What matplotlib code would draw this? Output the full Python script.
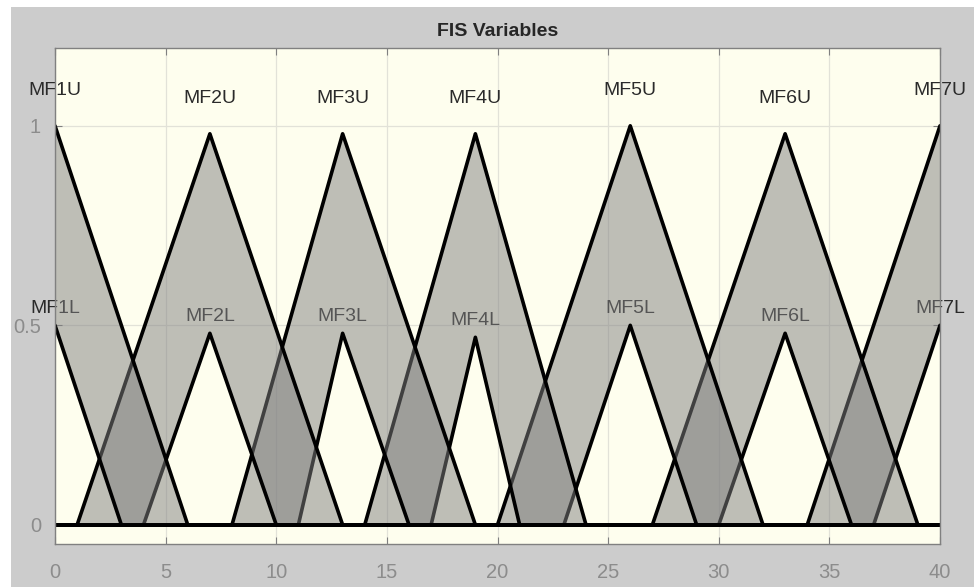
import matplotlib
matplotlib.use("Agg")
import matplotlib.pyplot as plt
from matplotlib.patches import Rectangle

plt.rcParams['font.family'] = ['Liberation Sans', 'DejaVu Sans']

# interval type-2 triangular MFs
names = ["MF1", "MF2", "MF3", "MF4", "MF5", "MF6", "MF7"]
peaks = [0, 7, 13, 19, 26, 33, 40]

# upper MFs
up_left = [-6, 1, 8, 14, 20, 27, 34]
up_right = [6, 13, 19, 24, 32, 39, 46]
up_height = [1.0, 0.98, 0.98, 0.98, 1.0, 0.98, 1.0]

# lower MFs
lo_left = [-3, 4, 11, 17, 23, 30, 37]
lo_right = [3, 10, 16, 21, 29, 36, 43]
lo_height = [0.5, 0.48, 0.48, 0.47, 0.5, 0.48, 0.5]

x_ticks = [0, 5, 10, 15, 20, 25, 30, 35, 40]
y_ticks = [0, 0.5, 1]
y_ticklabels = ["0", "0.5", "1"]


def tri(a, b, c, h):
    xs = [min(a, 0), a, b, c, max(c, 40)]
    ys = [0, 0, h, 0, 0]
    return xs, ys


fig = plt.figure(figsize=(9.74, 5.87), dpi=100, facecolor="white")
# grey figure panel (white strip at top and left in the screenshot)
fig.patches.append(Rectangle((11 / 974, 0), 1, 1 - 7 / 587, transform=fig.transFigure,
                             facecolor="#cccccc", edgecolor="none", zorder=-10))

ax = fig.add_axes([55 / 974, 1 - 544 / 587, 885 / 974, 496 / 587])
ax.set_facecolor("#fefeee")
ax.set_xlim(0, 40)
ax.set_ylim(-0.048, 1.195)

# last MF first: each shaded band goes over the lines of the MF to its right,
# its own lines go on top of it
z = 1.2
for i in reversed(range(len(names))):
    ux, uy = tri(up_left[i], peaks[i], up_right[i], up_height[i])
    lx, ly = tri(lo_left[i], peaks[i], lo_right[i], lo_height[i])
    ax.fill(ux + lx[::-1], uy + ly[::-1], facecolor="#808080", alpha=0.5,
            edgecolor="none", zorder=z)
    ax.plot(ux, uy, color="black", lw=2.6, solid_joinstyle="round", zorder=z + 0.05)
    ax.plot(lx, ly, color="black", lw=2.6, solid_joinstyle="round", zorder=z + 0.05)
    z += 0.15

    ax.text(peaks[i], up_height[i] + 0.088, names[i] + "U", ha="center", va="center",
            fontsize=14, color="#2a2a2a", zorder=1.1, clip_on=False)
    ax.text(peaks[i], lo_height[i] + 0.042, names[i] + "L", ha="center", va="center",
            fontsize=14, color="#2a2a2a", zorder=1.1, clip_on=False)

ax.set_xticks(x_ticks)
ax.set_yticks(y_ticks)
ax.set_yticklabels(y_ticklabels)
ax.tick_params(direction="in", length=5, width=0.8, color="#808080",
               labelcolor="#8c8c8c", labelsize=14.5, top=True, right=True)
ax.tick_params(axis="x", pad=14)
ax.tick_params(axis="y", pad=10)
ax.grid(True, color="#e2e2d8", lw=0.9)
ax.set_axisbelow(True)
for s in ax.spines.values():
    s.set_color("#808080")
    s.set_linewidth(1.0)

fig.text(497.5 / 974, 1 - 32 / 587, "FIS Variables", ha="center", va="center",
         fontsize=14, fontweight="bold", color="#262626")

fig.savefig("out.png", dpi=100, facecolor=fig.get_facecolor())
